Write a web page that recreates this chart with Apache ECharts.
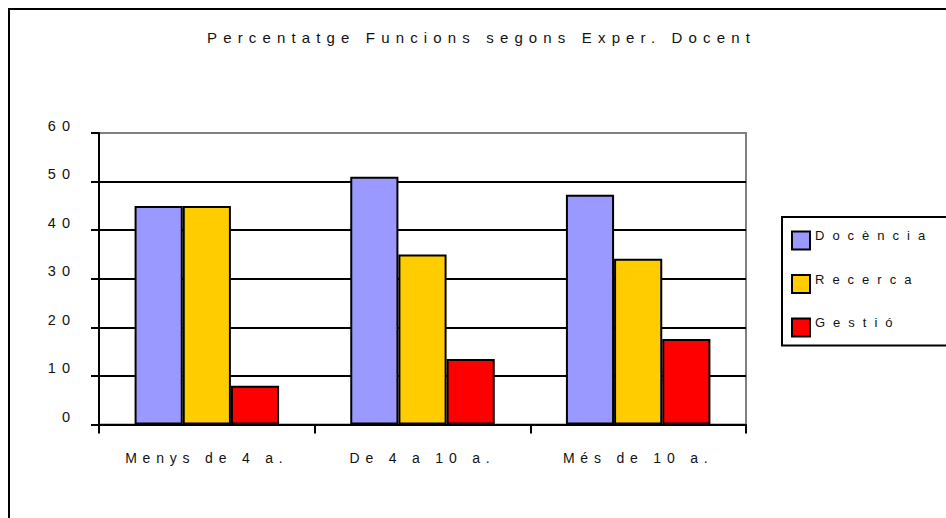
<!DOCTYPE html>
<html>
<head>
<meta charset="utf-8">
<script src="https://cdn.jsdelivr.net/npm/echarts@6/dist/echarts.min.js"></script>
<style>
  html, body { margin: 0; padding: 0; background: #fff; }
  #chart { width: 946px; height: 518px; }
  /* wide letter spacing, picked per text size */
  #chart svg text[style*="15px"] { letter-spacing: 6.15px; }
  #chart svg text[style*="14px"] { letter-spacing: 5.8px; }
  #chart svg text[style*="13px"] { letter-spacing: 8px; }
  #chart svg text[style*="14.5px"] { letter-spacing: 6px; }
</style>
</head>
<body>
<div id="chart"></div>
<script>
const titleText = 'Percentatge Funcions segons Exper. Docent';
const categories = ['Menys de 4 a.', 'De 4 a 10 a.', 'Més de 10 a.'];
const seriesNames = ['Docència', 'Recerca', 'Gestió'];
const docencia = [45, 51, 47.3];
const recerca = [45, 35, 34.1];
const gestio = [8, 13.5, 17.6];
const yMin = 0, yMax = 60, yStep = 10;

const colors = ['#9999FF', '#FFCC00', '#FF0000'];
const FONT = '"Liberation Sans", Arial, sans-serif';

const chart = echarts.init(document.getElementById('chart'), null, { renderer: 'svg' });

const barSeries = [docencia, recerca, gestio].map((vals, i) => ({
  name: seriesNames[i],
  type: 'bar',
  data: vals,
  barGap: '0%',
  barCategoryGap: '33%',
  itemStyle: { color: colors[i], borderColor: '#000', borderWidth: 2 },
  emphasis: { disabled: true }
}));

chart.setOption({
  animation: false,
  backgroundColor: '#fff',
  graphic: [{
    type: 'rect',
    shape: { x: 9, y: 9, width: 1000, height: 1000 },
    style: { fill: 'none', stroke: '#000', lineWidth: 2 },
    silent: true, z: 0
  }],
  title: {
    text: titleText,
    left: 202,
    top: 25,
    padding: 5,
    textStyle: { fontFamily: FONT, fontSize: 15, fontWeight: 'normal', color: '#111' }
  },
  legend: {
    orient: 'vertical',
    left: 782,
    top: 217,
    padding: [12, 120, 8, 9],
    itemWidth: 18,
    itemHeight: 18,
    itemGap: 22,
    icon: 'rect',
    borderColor: '#000',
    borderWidth: 2,
    backgroundColor: '#fff',
    itemStyle: { borderColor: '#000', borderWidth: 2 },
    formatter: '{t|{name}}',
    textStyle: {
      fontFamily: FONT, fontSize: 13, color: '#111',
      rich: { t: { fontFamily: FONT, fontSize: 13, color: '#111', padding: [0, 0, 10, 0] } }
    },
    data: seriesNames
  },
  grid: {
    left: 99, right: 200, top: 133, bottom: 93.5,
    show: true, borderColor: '#808080', borderWidth: 2, backgroundColor: '#fff'
  },
  xAxis: {
    type: 'category',
    data: categories,
    axisLine: { lineStyle: { color: '#000', width: 2 } },
    axisTick: { show: true, length: 9, lineStyle: { color: '#000', width: 2 } },
    axisLabel: { fontFamily: FONT, fontSize: 14, color: '#111', margin: 26 }
  },
  yAxis: {
    type: 'value',
    min: yMin, max: yMax, interval: yStep,
    axisLine: { show: true, lineStyle: { color: '#000', width: 2 } },
    axisTick: { show: true, length: 8, lineStyle: { color: '#000', width: 2 } },
    axisLabel: { fontFamily: FONT, fontSize: 14.5, color: '#111', margin: 23, verticalAlign: 'bottom' },
    splitLine: { show: true, lineStyle: { color: ['#000', '#000', '#000', '#000', '#000', '#000', '#808080'], width: 2 } }
  },
  series: barSeries
});
</script>
</body>
</html>
